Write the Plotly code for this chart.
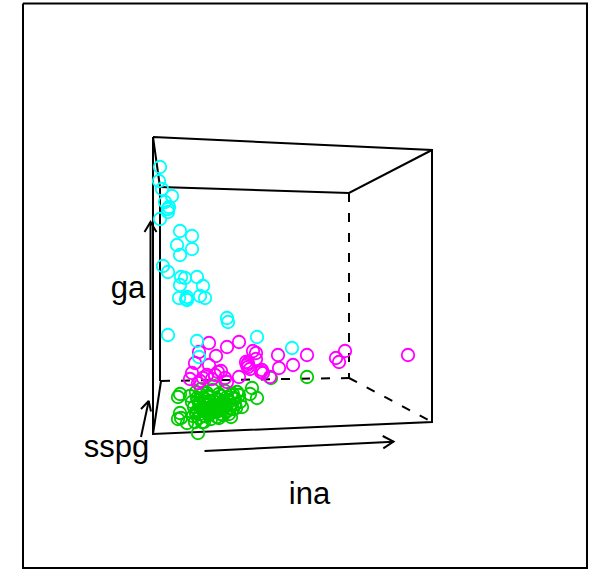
import plotly.graph_objects as go

# projected scatter positions (horizontal, vertical)
cyan_h = [160,159,162,172,165,169,168,168,160,180,192,177,192,180,163,168,181,185,197,203,180,179,187,187,186,200,205,227,228,168,197,257,199,292]
cyan_v = [167,181,189,196,202,207,209,212,219,231,236,245,249,255,266,272,277,278,277,286,285,298,297,300,299,296,298,318,322,335,341,337,357,348]
magenta_h = [209,227,239,199,216,195,253,256,256,248,248,247,250,261,278,307,293,279,345,336,339,408,262,263,209,221,190,207,203,200,198,225,227,239,192,215,218,246,270,212]
magenta_v = [343,347,342,352,356,363,351,353,359,363,367,365,369,372,355,355,365,368,351,358,362,355,370,373,365,371,379,375,378,381,383,378,382,377,373,375,372,362,377,379]
green_h = [307,271,178,180,198,181,178,180,187,195,204,219,231,242,250,252,257,202,
           190,196,201,207,213,219,225,231,237,192,198,204,210,216,222,228,234,240,
           194,200,206,212,218,224,230,236,196,203,209,215,221,227,233,193,199,205,211,217,223,229,235,208,214,220,
           197,201,205,209,213,217,221,225,229,233,199,203,207,211,215,219,223,227,231,198,202,206,210,214,218,222,226,230,235,239,
           196,200,204,208,212,216,220,224,228]
green_v = [377,378,397,394,433,418,419,413,423,422,422,418,417,407,394,388,398,422,
           396,392,389,393,390,394,391,395,392,402,400,398,401,399,403,400,398,402,
           407,405,409,406,410,407,405,408,413,411,415,412,414,411,409,416,418,416,419,417,415,414,404,396,386,408,
           398,395,402,397,405,399,396,406,402,394,403,407,404,409,402,406,401,397,405,411,408,412,410,407,411,409,412,408,399,395,
           412,414,411,413,408,412,410,405,400]

face_solid_h = [153,432,432,153,153,None,153,160,349,432,None,160,160,None,153,161]
face_solid_v = [137,150,422,434,137,None,137,187,193,150,None,187,381,None,434,381]
hidden_h = [349,349,None,161,349,None,349,432]
hidden_v = [193,378,None,381,378,None,378,422]
frame_h = [23,587,587,23,23]
frame_v = [3.5,3.5,568,568,3.5]

ga_arrow_h = [150.5,150.5,None,144.5,150.5,156.5]
ga_arrow_v = [350,222,None,232,222,232]
sspg_arrow_h = [141,148.7,None,141,148.7,151]
sspg_arrow_v = [437,401,None,409,401,411.5]
ina_arrow_h = [204.5,393.5,None,382.7,393.5,383.3]
ina_arrow_v = [451,441.7,None,436,441.7,448.3]

axis_names = ["ga", "sspg", "ina"]
label_h = [128, 116.5, 309.5]
label_v = [290.5, 449.5, 496.5]

fig = go.Figure()
line = lambda h, v, w=2, dash="solid": go.Scatter(
    x=h, y=v, mode="lines", line=dict(color="black", width=w, dash=dash), hoverinfo="skip")

fig.add_trace(line(frame_h, frame_v))
fig.add_trace(line(hidden_h, hidden_v, 2, "9px,11px"))
fig.add_trace(line(face_solid_h, face_solid_v))
for h, v, c in [(green_h, green_v, "#00CD00"), (magenta_h, magenta_v, "#FF00FF"), (cyan_h, cyan_v, "#00FFFF")]:
    fig.add_trace(go.Scatter(x=h, y=v, mode="markers",
                             marker=dict(symbol="circle-open", size=12.5, color=c, line=dict(width=1.8, color=c))))
for h, v in [(ga_arrow_h, ga_arrow_v), (sspg_arrow_h, sspg_arrow_v), (ina_arrow_h, ina_arrow_v)]:
    fig.add_trace(line(h, v))
fig.add_trace(go.Scatter(x=label_h, y=label_v, text=axis_names, mode="text",
                         textposition="middle center",
                         textfont=dict(family="Liberation Sans", size=31, color="black")))

fig.update_layout(width=596, height=569, margin=dict(l=0, r=0, t=0, b=0),
                  paper_bgcolor="white", plot_bgcolor="white", showlegend=False,
                  xaxis=dict(range=[0, 596], visible=False),
                  yaxis=dict(range=[569, 0], visible=False))
fig.write_html("out.html", config=dict(displayModeBar=False),
               post_script="document.body.style.margin='0';")
